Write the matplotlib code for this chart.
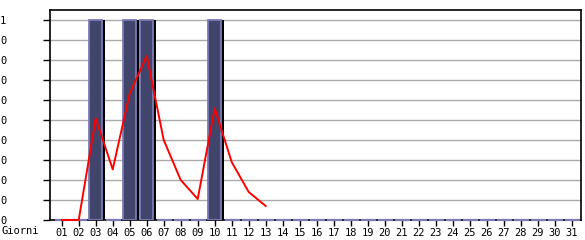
import numpy as np
import matplotlib
matplotlib.use('Agg')
import matplotlib.pyplot as plt

# days of the month and the daily values
days = list(range(1, 32))
day_labels = ['%02d' % d for d in days]
bar_values = [0, 0, 1, 0, 1, 1, 0, 0, 0, 1] + [0] * 21

# red trend line, only for the first 13 days
trend_days = list(range(1, 14))
trend_values = [0, 0, 0.508, 0.253, 0.633, 0.82, 0.40, 0.20, 0.105, 0.558, 0.29, 0.14, 0.07]

ytick_values = [0, 0.1, 0.2, 0.3, 0.4, 0.5, 0.6, 0.7, 0.8, 0.9, 1.0]
ytick_labels = ['0', '0', '0', '0', '0', '0', '0', '0', '0', '0', '1']

plt.rcParams['font.family'] = ['DejaVu Sans Mono']

fig = plt.figure(figsize=(5.85, 2.4), dpi=100)
ax = fig.add_axes([50 / 585, 20 / 240, 531 / 585, 210 / 240])

bar_w = 0.79
x = np.array(days)
vals = np.array(bar_values)

# shadow behind the bars
ax.bar(x + 0.14, vals, width=bar_w, color='black', linewidth=0, zorder=2)
# main bars
ax.bar(x, vals, width=bar_w, color='#41446b', edgecolor='#7b7bb8', linewidth=1.3, zorder=3)

# empty days are shown as a flat dash on the axis
zero_x = x[vals == 0]
ax.hlines(vals[vals == 0], zero_x - bar_w / 2, zero_x + bar_w / 2 + 0.1,
          color='#7b7bb8', linewidth=1.6, zorder=3, clip_on=False)

line, = ax.plot(trend_days, trend_values, color='#ff0000', linewidth=1.4, zorder=4)
line.set_clip_on(False)

ax.set_xlim(0.31, 31.55)
ax.set_ylim(0, 1.05)

ax.set_xticks(days)
ax.set_xticklabels(day_labels, fontsize=7.5)
ax.set_yticks(ytick_values)
ax.set_yticklabels(ytick_labels, fontsize=7.5)
for lab in ax.get_yticklabels():
    lab.set_horizontalalignment('left')

ax.tick_params(axis='y', length=5, width=1, pad=31, direction='out')
ax.tick_params(axis='x', length=4, width=1, pad=2, direction='out')

for yv in ytick_values[1:]:
    ax.axhline(yv, color='#aaaaaa', linewidth=1, zorder=1)

for sp in ax.spines.values():
    sp.set_color('black')
    sp.set_linewidth(1.2)

fig.text(2 / 585, 1 - 231 / 240, 'Giorni', fontsize=7.5, ha='left', va='center')

fig.savefig('out.png', dpi=100)
